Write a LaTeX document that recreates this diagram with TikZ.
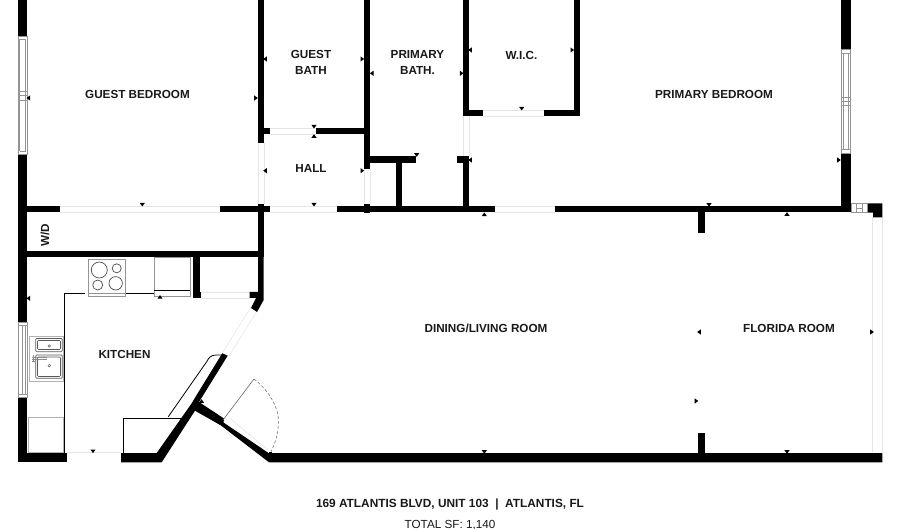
\documentclass[tikz,border=0pt]{standalone}
\usepackage{fontspec}
\setmainfont{Liberation Sans}
\begin{document}
\begin{tikzpicture}[x=1pt,y=-1pt,
  wall/.style={fill=black,draw=none},
  lightln/.style={draw=black!10,line width=.6pt},
  grayln/.style={draw=black!42,line width=.6pt},
  thinblk/.style={draw=black,line width=1pt},
  lbl/.style={font=\fontsize{11.7}{16}\selectfont\bfseries,inner sep=0pt,align=center,text=black!90},
  foot/.style={font=\fontsize{11.85}{14}\selectfont\bfseries,inner sep=0pt,text=black!90},
  foottwo/.style={font=\fontsize{11.7}{14}\selectfont,inner sep=0pt,text=black!90},
  tk/.style={fill=black,draw=none}]
\useasboundingbox (0,0) rectangle (900,529);
\clip (0,0) rectangle (900,529);
\def\wl(#1,#2,#3,#4){\fill[wall] (#1,#2) rectangle (#3,#4);}
% tick: x y rotation (0 = points down)
\def\tick(#1,#2,#3){\fill[tk,shift={(#1,#2)},rotate=#3] (-2.6,-1.8) -- (2.6,-1.8) -- (0,1.8) -- cycle;}
% ---- door / opening lines
\draw[lightln] (60,206.5) -- (220,206.5) (60,212.5) -- (220,212.5);
\draw[lightln] (258,143) -- (258,204) (264,143) -- (264,204);
\draw[lightln] (269,128) -- (316,128) (269,134.5) -- (316,134.5);
\draw[lightln] (270,206.5) -- (337,206.5) (270,212.5) -- (337,212.5);
\draw[lightln] (364,169) -- (364,204) (370,169) -- (370,204);
\draw[lightln] (483,110) -- (544,110) (483,116.5) -- (544,116.5);
\draw[lightln] (463,116) -- (463,157) (469,116) -- (469,157);
\draw[lightln] (494,206.5) -- (555,206.5) (494,212.5) -- (555,212.5);
\draw[lightln] (201,292) -- (249.5,292) (201,298) -- (249.5,298);
\draw[lightln] (67,452.5) -- (121,452.5);
\draw[lightln] (872.7,217) -- (872.7,452) (882,217) -- (882,452);
\draw[lightln] (251,307) -- (223,352) (257,311) -- (229,356);
\draw[lightln] (229,417.5) -- (268,450);
% ---- walls
\wl(18,0,27,36)
\wl(18,154,27,322)
\wl(18,397,27,462)
\wl(27,206.5,60,212.5)
\wl(220,206.5,270,212.5)
\wl(258,0,264,143)
\wl(264,128,269.5,134.5)
\wl(258,204,264,257)
\wl(27,251,258,257)
\wl(193,257,200,298)
\wl(193,292,201,298)
\fill[wall] (258,257) -- (263.7,257) -- (263.7,300) -- (257,312) -- (251,308) -- (256,298) -- (249.5,298) -- (249.5,292) -- (258,292) -- cycle;
\wl(316,128,364,134.5)
\wl(364,0,370,169)
\wl(364,204,370,213)
\wl(370,156.5,415.5,163)
\wl(396,163,402,207)
\wl(337,206.5,494.5,212.5)
\wl(555,206.5,845,212.5)
\wl(463,0,469,116.5)
\wl(469,110.5,483,116.5)
\wl(544,110.5,580,116.5)
\wl(574,0,580,116.5)
\wl(456.5,156.5,469,163)
\wl(463,157,469,207)
\wl(841,0,850.5,49)
\wl(841,153,850.5,212.5)
\fill[wall] (867,203.5) -- (882.3,203.5) -- (882.3,217.3) -- (873,217.3) -- (873,212.7) -- (867,212.7) -- cycle;
\wl(698,212,704.5,233)
\wl(698,433,704.5,453)
\wl(18,453,67,462)
\fill[wall] (121,453) -- (156.7,453) -- (191.7,403.3) -- (196,396) -- (222.3,353.3) -- (227.7,355.7) -- (199,402) -- (224,418.5) -- (223.5,422.5) -- (268.5,453) -- (882.3,453) -- (882.3,462.3) -- (269,462.3) -- (221,425.5) -- (195,410.7) -- (161.7,462.3) -- (121,462.3) -- cycle;
% ---- windows
\foreach \a/\b/\c in {18/36/154,18/322/397,841/49/153}{
  \pgfmathsetmacro{\r}{\a+9}
  \draw[grayln,fill=white] (\a,\b) rectangle (\r,\c);
}
\draw[grayln] (19.5,39) -- (19.5,151) (25.5,39) -- (25.5,151) (19.5,39) -- (25.5,39) (19.5,151) -- (25.5,151) (18,91) -- (27,91) (18,95.5) -- (27,95.5) (18,100) -- (27,100);
\draw[grayln] (22,325) -- (22,394) (25.5,325) -- (25.5,394) (18,325) -- (27,325) (18,394) -- (27,394);
\draw[grayln] (843,53) -- (843,149) (848.5,53) -- (848.5,149) (841,53) -- (850,53) (841,149) -- (850,149) (841,97) -- (850,97) (841,101) -- (850,101) (841,105.5) -- (850,105.5);
% small window
\draw[grayln,fill=white] (851.5,203.5) rectangle (867,212.7);
\draw[grayln] (856,203.5) -- (856,212.7) (862,203.5) -- (862,212.7) (856,208) -- (862,208);
% ---- kitchen fixtures
\draw[thinblk] (85,294) -- (64,294) -- (64,453);
\draw[thinblk] (125.7,293.5) -- (154,293.5);
\draw[thinblk] (123.5,453) -- (123.5,418) -- (181,418);
\draw[thinblk,line width=.8pt] (168.3,416.7) -- (206.7,361.7) .. controls (208.5,358) and (211,355) .. (216,355) -- (223,355);
% stove
\draw[grayln,fill=white] (88.3,259.3) rectangle (125.7,296.7);
\draw[black!70,line width=.7pt] (99.3,270) circle (8) (116.7,268.3) circle (4.5) (97.7,285) circle (5) (115.7,283.3) circle (6.7);
\draw[grayln] (88.3,293) -- (125.7,293);
% fridge
\draw[grayln,fill=white] (154,257.5) rectangle (190,296);
\draw[black,line width=1pt] (154,291) -- (190,291);
% sink
\draw[black!30,line width=.6pt] (29.3,336) rectangle (63.3,381.7);
\draw[black!65,line width=.7pt,rounded corners=1pt] (35.7,338.5) rectangle (62.3,351.7) (37.5,340.5) rectangle (60.5,349.5);
\draw[black!65,line width=.7pt,rounded corners=1pt] (35.7,355) rectangle (62.3,378.3) (37.5,357) rectangle (60.5,376.5);
\draw[black!60,line width=.5pt] (49.3,346) circle (1.3) (49.3,365.7) circle (1.3);
\draw[black!45,line width=.6pt] (31.7,357) -- (46.7,357) (31.7,359.5) -- (46.7,359.5) (31.7,361.5) -- (36,361.5) (33,355.5) -- (33,362.5);
% dishwasher-like square
\draw[black!30,line width=.6pt] (28.3,417.7) rectangle (63.3,452.3);
% entry door
\draw[black!60,line width=.6pt] (223,420) -- (254,379);
\draw[black!55,line width=.6pt,densely dashed] (254,379) .. controls (272,393) and (280,412) .. (278.3,425) .. controls (278,434) and (275,444) .. (271,451.7);
\wl(268.5,451.5,272,458)
% ---- ticks
\tick(28.3,98,-90) \tick(256,98,90) \tick(265,59,-90) \tick(265,170.7,-90)
\tick(142.3,204.7,0) \tick(362.3,59,90) \tick(371.7,73.3,-90) \tick(461.7,73.3,90)
\tick(470,50,-90) \tick(521.7,108.7,0) \tick(314,126.7,0) \tick(314,136,180)
\tick(362.3,170.7,90) \tick(314,204.7,0) \tick(416.7,155,0) \tick(470,160,-90)
\tick(484.3,214.3,180) \tick(572.3,50,90) \tick(839,160,90) \tick(709,205,0)
\tick(787,214,180) \tick(28.3,298.3,-90) \tick(93,451.3,0) \tick(201.5,401,180)
\tick(699,332,-90) \tick(696.5,401,90) \tick(872,332,90) \tick(484.3,452,0) \tick(787,452,0)
\tick(160,296.9,180)
% ---- labels
\node[lbl] (gb) at (137.5,94) {GUEST BEDROOM};
\node[lbl] (gbath) at (311,62) {GUEST\\BATH};
\node[lbl] (pbath) at (417.5,62) {PRIMARY\\BATH.};
\node[lbl] (wic) at (521.5,55) {W.I.C.};
\node[lbl] (pb) at (714,94) {PRIMARY BEDROOM};
\node[lbl] (hall) at (311,168) {HALL};
\node[lbl,rotate=90] (wd) at (45,235) {W/D};
\node[lbl] (kit) at (124.5,354.5) {KITCHEN};
\node[lbl] (dl) at (486,328) {DINING/LIVING ROOM};
\node[lbl] (fl) at (789,328) {FLORIDA ROOM};
\node[foot] (addr) at (450,504.5) {169 ATLANTIS BLVD, UNIT 103\ \ |\ \ ATLANTIS, FL};
\node[foottwo] (sf) at (450,525) {TOTAL SF: 1,140};
\end{tikzpicture}
\end{document}
